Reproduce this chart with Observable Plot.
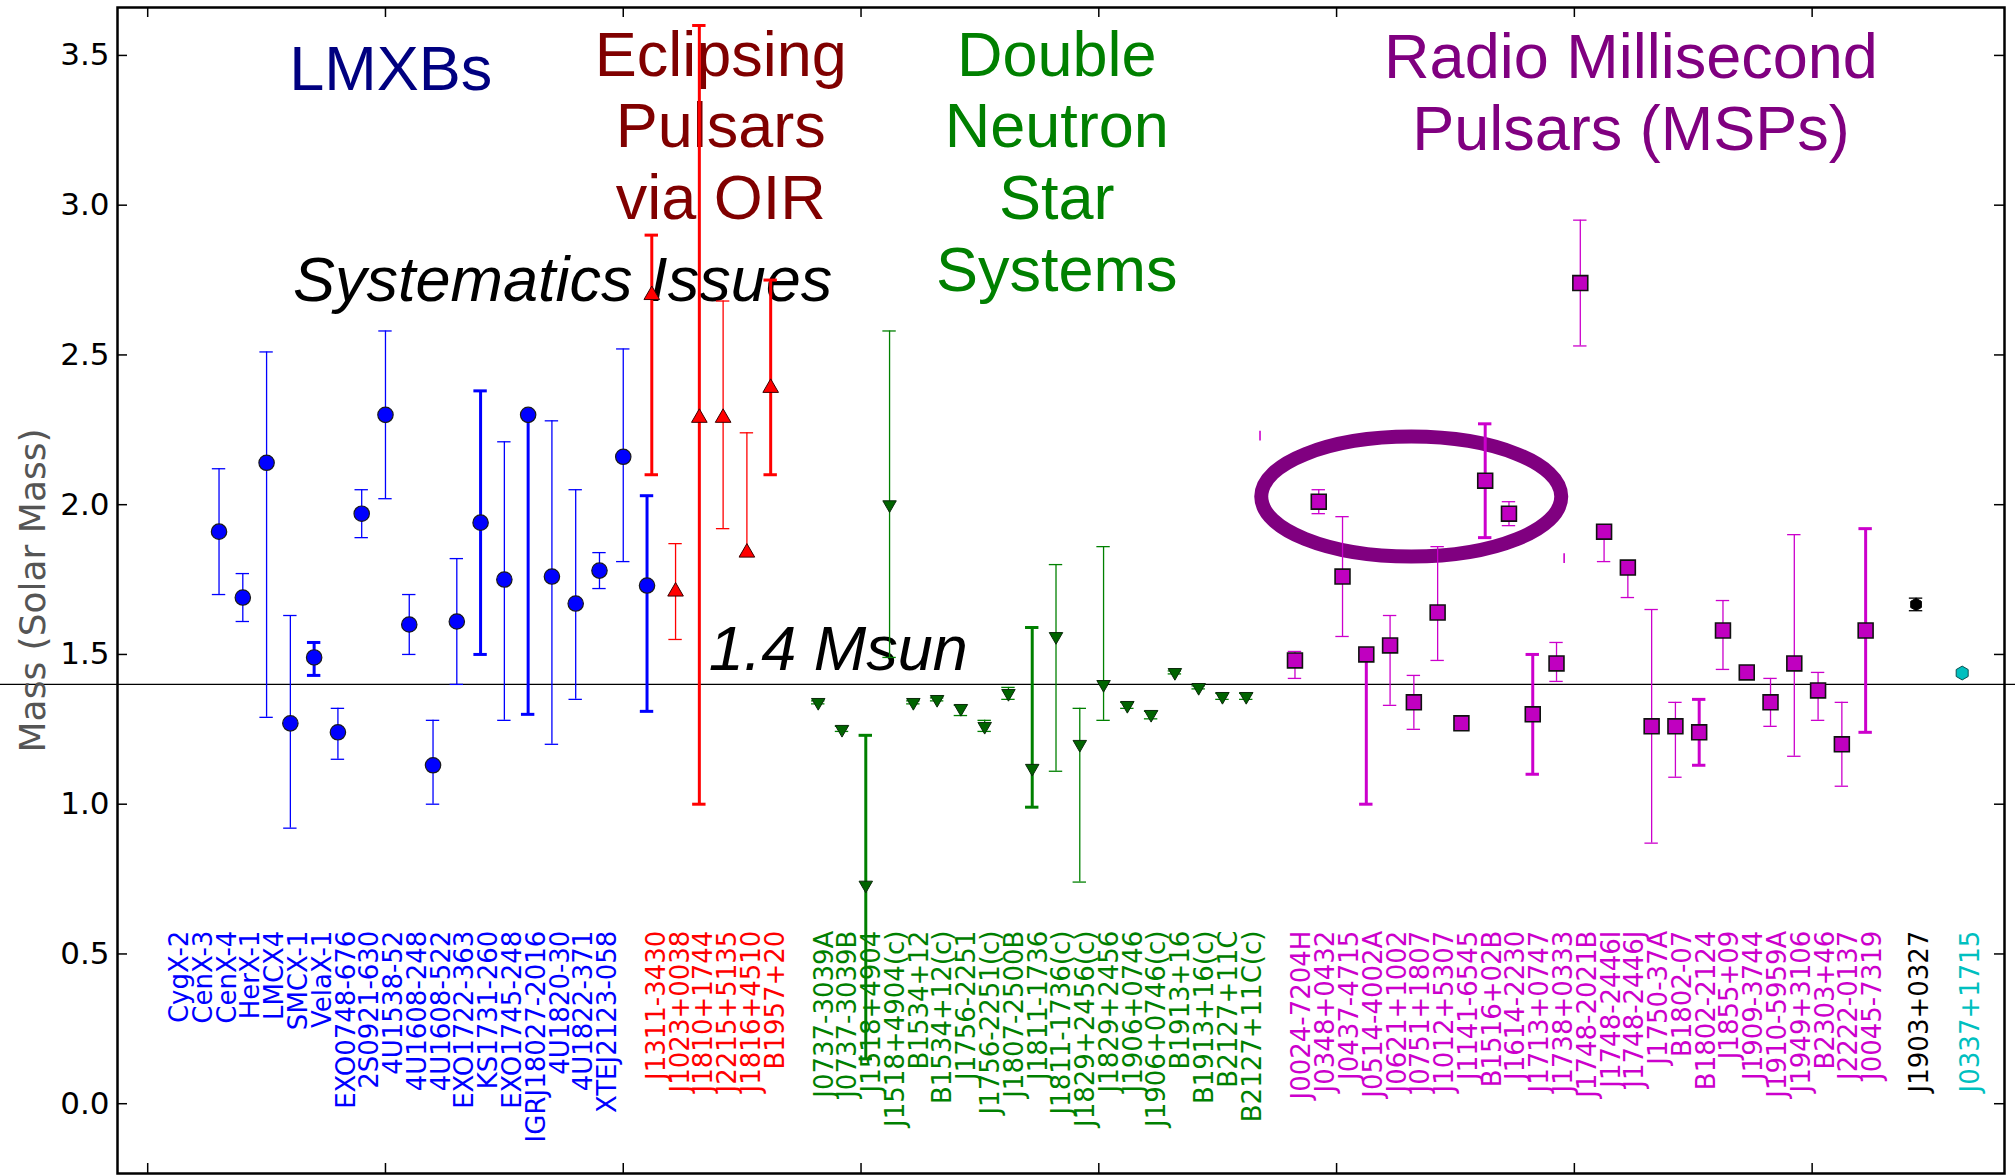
<!DOCTYPE html>
<html>
<head>
<meta charset="utf-8">
<script src="https://cdn.jsdelivr.net/npm/d3@7"></script>
<script src="https://cdn.jsdelivr.net/npm/@observablehq/plot@0.6"></script>
<style>
html, body { margin: 0; padding: 0; background: #fff; overflow: hidden; }
#chart svg { display: block; }
</style>
</head>
<body>
<div id="chart"></div>
<script>
// ======================= DATA =======================
// Low-mass X-ray binaries
const lmxbNames = ["CygX-2","CenX-3","CenX-4","HerX-1","LMCX4","SMCX-1","VelaX-1","EXO0748-676","2S0921-630","4U1538-52","4U1608-248","4U1608-522","EXO1722-363","KS1731-260","EXO1745-248","IGRJ18027-2016","4U1820-30","4U1822-371","XTEJ2123-058"];
const lmxbMass = [1.91,1.69,2.14,1.27,1.49,1.24,1.97,2.30,1.60,1.13,1.61,1.94,1.75,2.30,1.76,1.67,1.78,2.16,1.73];
const lmxbLow  = [1.70,1.61,1.29,0.92,1.43,1.15,1.89,2.02,1.50,1.00,1.40,1.50,1.28,1.30,1.20,1.35,1.72,1.81,1.31];
const lmxbHigh = [2.12,1.77,2.51,1.63,1.54,1.32,2.05,2.58,1.70,1.28,1.82,2.38,2.21,2.30,2.28,2.05,1.84,2.52,2.03];

// Eclipsing pulsars via OIR
const eclNames = ["J1311-3430","J1023+0038","J1810+1744","J2215+5135","J1816+4510","B1957+20"];
const eclMass  = [2.70,1.71,2.29,2.29,1.84,2.39];
const eclLow   = [2.10,1.55,1.00,1.92,1.83,2.10];
const eclHigh  = [2.90,1.87,3.60,2.68,2.24,2.75];

// Double neutron star systems
const dnsNames = ["J0737-3039A","J0737-3039B","J1518+4904","J1518+4904(c)","B1534+12","B1534+12(c)","J1756-2251","J1756-2251(c)","J1807-2500B","J1811-1736","J1811-1736(c)","J1829+2456(c)","J1829+2456","J1906+0746","J1906+0746(c)","B1913+16","B1913+16(c)","B2127+11C","B2127+11C(c)"];
const dnsMass  = [1.34,1.25,0.73,2.00,1.34,1.35,1.32,1.26,1.37,1.12,1.56,1.20,1.40,1.33,1.30,1.44,1.39,1.36,1.36];
const dnsLow   = [1.335,1.243,0.15,1.49,1.335,1.345,1.296,1.243,1.35,0.99,1.11,0.74,1.28,1.32,1.285,1.435,1.385,1.35,1.35];
const dnsHigh  = [1.345,1.26,1.23,2.58,1.345,1.355,1.33,1.28,1.39,1.59,1.80,1.32,1.86,1.34,1.31,1.445,1.395,1.37,1.37];

// Radio millisecond pulsars
const mspNames = ["J0024-7204H","J0348+0432","J0437-4715","J0514-4002A","J0621+1002","J0751+1807","J1012+5307","J1141-6545","B1516+02B","J1614-2230","J1713+0747","J1738+0333","J1748-2021B","J1748-2446I","J1748-2446J","J1750-37A","B1802-07","B1802-2124","J1855+09","J1909-3744","J1910-5959A","J1949+3106","B2303+46","J2222-0137","J0045-7319"];
const mspMass  = [1.48,2.01,1.76,1.50,1.53,1.34,1.64,1.27,2.08,1.97,1.30,1.47,2.74,1.91,1.79,1.26,1.26,1.24,1.58,1.44,1.34,1.47,1.38,1.20,1.58];
const mspLow   = [1.42,1.97,1.56,1.00,1.33,1.25,1.48,1.27,1.89,1.93,1.10,1.41,2.53,1.81,1.69,0.87,1.09,1.13,1.45,1.44,1.26,1.16,1.28,1.06,1.24];
const mspHigh  = [1.51,2.05,1.96,1.50,1.63,1.43,1.86,1.27,2.27,2.01,1.50,1.54,2.95,1.91,1.79,1.65,1.34,1.35,1.68,1.44,1.42,1.90,1.44,1.34,1.92];

// Single systems
const j1903Names = ["J1903+0327"];
const j1903Mass  = [1.667];
const j1903Low   = [1.646];
const j1903High  = [1.688];

const j0337Names = ["J0337+1715"];
const j0337Mass  = [1.438];
const j0337Low   = [1.438];
const j0337High  = [1.438];

// stray magenta error-bar fragments visible in the figure
const strayX    = [46.78, 59.57];
const strayLow  = [2.213, 1.804];
const strayHigh = [2.245, 1.836];

// axis ticks / reference
const yTicks = [0, 0.5, 1.0, 1.5, 2.0, 2.5, 3.0, 3.5];
const xTicks = [0, 10, 20, 30, 40, 50, 60, 70];
const referenceMass = 1.4;

// texts
const groupTitles = ["LMXBs", "Eclipsing\nPulsars\nvia OIR", "Double\nNeutron\nStar\nSystems", "Radio Millisecond\nPulsars (MSPs)"];
const noteTexts = ["Systematics Issues", "1.4 Msun"];
const yLabel = "Mass (Solar Mass)";

// ======================= LAYOUT & STYLE =======================
const W = 2015, H = 1176;
const M = {top: 7, right: 11, bottom: 3, left: 117};
const xDomain = [-1.27, 78.09];
const yDomain = [-0.233, 3.66];
const uX = (xDomain[1] - xDomain[0]) / (W - M.left - M.right); // data units per px
const uY = (yDomain[1] - yDomain[0]) / (H - M.top - M.bottom);
const capHalf = 6.7 * uX;
const tickLen = 10;
const labelTop = 0.578;
const titleFont = "Liberation Sans, Arial, sans-serif";
const dejavu = "DejaVu Sans, sans-serif";

const thickBars = new Set(["LMCX4","4U1608-522","KS1731-260","XTEJ2123-058","J1311-3430","J1810+1744","B1957+20","J1518+4904","J1811-1736","J0514-4002A","B1516+02B","J1713+0747","B1802-2124","J0045-7319"]);

const triangleDown = {draw(ctx, size) {
  const y = Math.sqrt(size / (3 * Math.sqrt(3)));
  ctx.moveTo(0, 2 * y); ctx.lineTo(Math.sqrt(3) * y, -y); ctx.lineTo(-Math.sqrt(3) * y, -y); ctx.closePath();
}};
const hexagon = {draw(ctx, size) {
  const R = Math.sqrt(size / (1.5 * Math.sqrt(3)));
  for (let k = 0; k < 6; k++) {
    const a = Math.PI / 180 * (-90 + 60 * k);
    const px = R * Math.cos(a), py = R * Math.sin(a);
    if (k) ctx.lineTo(px, py); else ctx.moveTo(px, py);
  }
  ctx.closePath();
}};
const ellipseSymbol = (rx, ry) => ({draw(ctx) {
  const k = 0.5522847;
  ctx.moveTo(rx, 0);
  ctx.bezierCurveTo(rx, ry * k, rx * k, ry, 0, ry);
  ctx.bezierCurveTo(-rx * k, ry, -rx, ry * k, -rx, 0);
  ctx.bezierCurveTo(-rx, -ry * k, -rx * k, -ry, 0, -ry);
  ctx.bezierCurveTo(rx * k, -ry, rx, -ry * k, rx, 0);
  ctx.closePath();
}});

const groups = [
  {names: lmxbNames, mass: lmxbMass, low: lmxbLow, high: lmxbHigh, start: 3, labelShift: -1.65,
   bar: "#0000ff", label: "#0000ff", fill: "#0000ff", edge: "#1a1a1a", edgeWidth: 1.2, symbol: "circle", r: 7.7},
  {names: eclNames, mass: eclMass, low: eclLow, high: eclHigh, start: 21.2, labelShift: 0.2,
   bar: "#ff0000", label: "#ff0000", fill: "#ff0000", edge: "#3a0000", edgeWidth: 1, symbol: "triangle", r: 5.8},
  {names: dnsNames, mass: dnsMass, low: dnsLow, high: dnsHigh, start: 28.2, labelShift: 0.25,
   bar: "#008000", label: "#008000", fill: "#006400", edge: "#0b2a0b", edgeWidth: 1, symbol: triangleDown, r: 5.0},
  {names: mspNames, mass: mspMass, low: mspLow, high: mspHigh, start: 48.25, labelShift: 0.3,
   bar: "#cc00cc", label: "#cc00cc", fill: "#c000c0", edge: "#111", edgeWidth: 1.6, symbol: "square", r: 8.4},
  {names: j1903Names, mass: j1903Mass, low: j1903Low, high: j1903High, start: 74.37, labelShift: 0.15,
   bar: "#000000", label: "#000000", fill: "#000000", edge: "#000", edgeWidth: 1, symbol: hexagon, r: 5.6},
  {names: j0337Names, mass: j0337Mass, low: j0337Low, high: j0337High, start: 76.31, labelShift: 0.35,
   bar: "#00bfbf", label: "#00bfbf", fill: "#00bfbf", edge: "#105050", edgeWidth: 1, symbol: hexagon, r: 6.3}
];

// title layout: first-line centre (data coords), line step, colour
const titleLayout = [
  {x: 10.22, y: 3.452, color: "#000080"},
  {x: 24.10, y: 3.500, color: "#800000"},
  {x: 38.23, y: 3.500, color: "#008000"},
  {x: 62.38, y: 3.493, color: "#800080"}
];
const titleStep = 0.240;
const noteLayout = [
  {x: 17.45, y: 2.749},
  {x: 29.04, y: 1.514}
];
const highlight = {x: 53.14, y: 2.027, rx: 150, ry: 60};

// ======================= BUILD =======================
const rowsOf = g => g.names.map((name, i) => ({name, x: g.start + i, m: g.mass[i], lo: g.low[i], hi: g.high[i]}));

const titleRows = [];
groupTitles.forEach((t, gi) => {
  t.split("\n").forEach((line, li) => {
    titleRows.push({text: line, x: titleLayout[gi].x, y: titleLayout[gi].y - li * titleStep, color: titleLayout[gi].color});
  });
});
const noteRows = noteTexts.map((t, i) => ({text: t, x: noteLayout[i].x, y: noteLayout[i].y}));

const marks = [];
// reference line across the whole picture
marks.push(Plot.ruleY([referenceMass], {stroke: "#000", strokeWidth: 1.2, insetLeft: -M.left, insetRight: -M.right}));

// titles
for (const c of [...new Set(titleRows.map(d => d.color))]) {
  marks.push(Plot.text(titleRows.filter(d => d.color === c), {x: "x", y: "y", text: "text", fill: c, fontSize: 63, fontFamily: titleFont}));
}
marks.push(Plot.text(noteRows, {x: "x", y: "y", text: "text", fill: "#000", fontSize: 63, fontStyle: "italic", fontFamily: titleFont}));

// rotated labels
for (const g of groups) {
  marks.push(Plot.text(rowsOf(g), {x: d => d.x + g.labelShift, y: () => labelTop, text: "name", rotate: -90, textAnchor: "end", fill: g.label, fontSize: 26, fontFamily: dejavu}));
}

// highlight ellipse
marks.push(Plot.dot([highlight], {x: "x", y: "y", r: 10, symbol: ellipseSymbol(highlight.rx, highlight.ry), fill: "none", stroke: "#800080", strokeWidth: 14}));

// stray fragments
const strayRows = strayX.map((x, i) => ({x, lo: strayLow[i], hi: strayHigh[i]}));
marks.push(Plot.ruleX(strayRows, {x: "x", y1: "lo", y2: "hi", stroke: "#cc00cc", strokeWidth: 1.6}));

// data
for (const g of groups) {
  const data = rowsOf(g);
  const bars = data.filter(d => d.hi > d.lo);
  const sw = d => thickBars.has(d.name) ? 3 : 1.3;
  marks.push(Plot.ruleX(bars, {x: "x", y1: "lo", y2: "hi", stroke: g.bar, strokeWidth: sw}));
  marks.push(Plot.ruleY(bars, {y: "hi", x1: d => d.x - capHalf, x2: d => d.x + capHalf, stroke: g.bar, strokeWidth: sw}));
  marks.push(Plot.ruleY(bars, {y: "lo", x1: d => d.x - capHalf, x2: d => d.x + capHalf, stroke: g.bar, strokeWidth: sw}));
  marks.push(Plot.dot(data, {x: "x", y: "m", symbol: g.symbol, r: g.r, fill: g.fill, stroke: g.edge, strokeWidth: g.edgeWidth}));
}

// inward ticks on all four sides
marks.push(Plot.ruleY(yTicks, {y: d => d, x1: () => xDomain[0], x2: () => xDomain[0] + tickLen * uX, stroke: "#000", strokeWidth: 1.5}));
marks.push(Plot.ruleY(yTicks, {y: d => d, x1: () => xDomain[1] - tickLen * uX, x2: () => xDomain[1], stroke: "#000", strokeWidth: 1.5}));
marks.push(Plot.ruleX(xTicks, {x: d => d, y1: () => yDomain[1], y2: () => yDomain[1] - tickLen * uY, stroke: "#000", strokeWidth: 1.5}));
marks.push(Plot.ruleX(xTicks, {x: d => d, y1: () => yDomain[0], y2: () => yDomain[0] + tickLen * uY, stroke: "#000", strokeWidth: 1.5}));

marks.push(Plot.frame({stroke: "#000", strokeWidth: 2.5}));

// y axis tick labels
const hasAxisMark = typeof Plot.axisY === "function";
if (hasAxisMark) {
  marks.push(Plot.axisY(yTicks, {tickSize: 0, tickPadding: 8, tickFormat: d => d.toFixed(1), fontSize: 31, fontFamily: dejavu, fill: "#000", label: null}));
}

// y axis title
marks.push(Plot.text([yLabel], {frameAnchor: "left", dx: -84, rotate: -90, textAnchor: "middle", text: d => d, fontSize: 36, fill: "#555", fontFamily: dejavu}));

const chart = Plot.plot({
  width: W, height: H,
  marginTop: M.top, marginRight: M.right, marginBottom: M.bottom, marginLeft: M.left,
  style: {background: "#fff", color: "#000", fontFamily: dejavu, fontSize: "31px"},
  x: {domain: xDomain, axis: null},
  y: hasAxisMark
    ? {domain: yDomain}
    : {domain: yDomain, ticks: yTicks, tickFormat: d => d.toFixed(1), tickSize: 0, tickPadding: 8, label: null},
  marks
});
document.getElementById("chart").appendChild(chart);
</script>
</body>
</html>
